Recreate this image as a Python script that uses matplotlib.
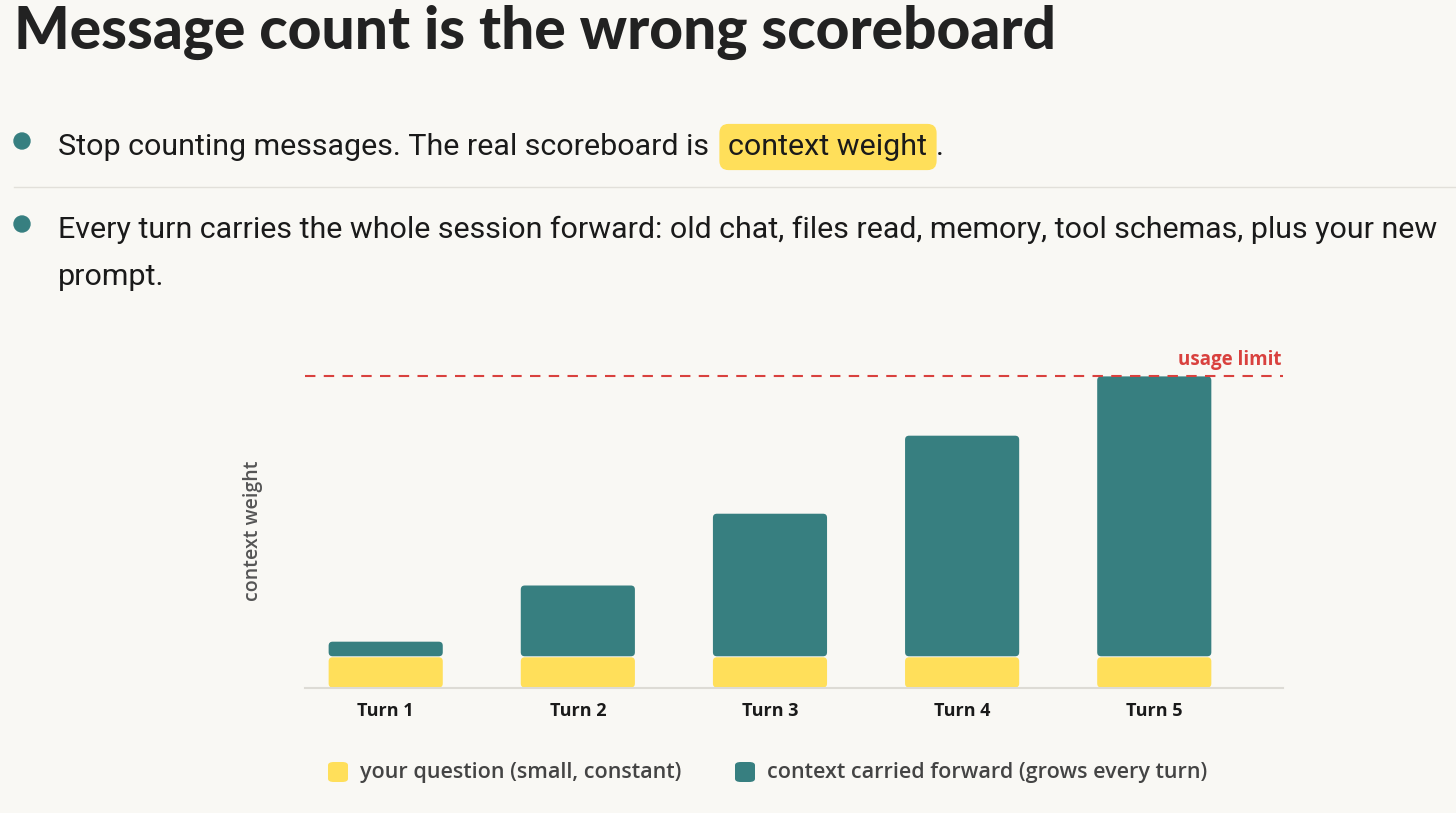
import matplotlib
matplotlib.use('Agg')
import matplotlib.pyplot as plt
from matplotlib.patches import FancyBboxPatch, Ellipse

# data
turns = ['Turn 1', 'Turn 2', 'Turn 3', 'Turn 4', 'Turn 5']
question = [10, 10, 10, 10, 10]
context = [5, 23, 46, 71, 90]
usage_limit = 100

BG = '#F9F8F4'
TEAL = '#377F80'
YELLOW = '#FFDF5A'
RED = '#D9413E'

W, H = 1456, 813
fig = plt.figure(figsize=(W / 100, H / 100), dpi=100, facecolor=BG)

def fx(x):
    return x / W

def fy(y):
    return 1 - y / H

# title
fig.text(fx(14), fy(32), 'Message count is the wrong scoreboard', fontsize=42.2,
         fontweight='black', family='Lato', color='#222222', va='center', ha='left')

# bullets
body = dict(fontsize=21.85, family='Roboto', color='#1a1a1a', va='baseline', ha='left')
for by in [141, 224]:
    fig.patches.append(Ellipse((fx(22), fy(by)), 16 / W, 16 / H,
                               transform=fig.transFigure, color=TEAL))

t1 = fig.text(fx(58), fy(155), 'Stop counting messages. The real scoreboard is ', **body)
fig.canvas.draw()
r = fig.canvas.get_renderer()
bb = t1.get_window_extent(r)
t2 = fig.text(bb.x1 / W + fx(12), fy(155), 'context weight', **body,
              bbox=dict(boxstyle='round,pad=0.3,rounding_size=0.3', fc=YELLOW, ec='none'))
bb2 = t2.get_window_extent(r)
fig.text(bb2.x1 / W + fx(8), fy(155), '.', **body)

fig.add_artist(plt.Line2D([fx(14), 1], [fy(187), fy(187)], color='#E2E0DA', lw=1))

fig.text(fx(58), fy(238), 'Every turn carries the whole session forward: old chat, files read, '
         'memory, tool schemas, plus your new', **body)
fig.text(fx(58), fy(285), 'prompt.', **body)

# chart
ax = fig.add_axes([fx(305), fy(688), fx(1283 - 305), (688 - 340) / H])
ax.set_facecolor(BG)
x = list(range(len(turns)))
bw = 0.594
b1 = ax.bar(x, question, width=bw, color=YELLOW)
b2 = ax.bar(x, context, width=bw, bottom=question, color=TEAL)
ax.set_xlim(-0.42, 4.67)
ax.set_ylim(0, 111.5)

# round the bar corners
px_x = 192.0
px_y = 3.12
for bars, col in [(b1, YELLOW), (b2, TEAL)]:
    for p in bars:
        gap = 0.5 / px_y
        fb = FancyBboxPatch((p.get_x(), p.get_y() + gap), p.get_width(), p.get_height() - 2 * gap,
                            boxstyle='round,pad=0,rounding_size=%f' % (4 / px_x),
                            mutation_aspect=px_x / px_y, fc=col, ec='none')
        p.remove()
        ax.add_patch(fb)

ax.axhline(usage_limit, color=RED, lw=1.5, ls=(0, (5, 4)))
ax.text(4.66, usage_limit + 2.0, 'usage limit', color=RED, fontsize=13.5,
        fontweight='bold', family='Open Sans', ha='right', va='bottom')

for s in ['top', 'right', 'left']:
    ax.spines[s].set_visible(False)
ax.spines['bottom'].set_color('#DDDBD5')
ax.spines['bottom'].set_linewidth(1.5)
ax.set_yticks([])
ax.set_xticks(x)
ax.set_xticklabels(turns, fontsize=13, fontweight='bold', family='Open Sans', color='#1a1a1a')
ax.tick_params(axis='x', length=0, pad=10)
ax.set_ylabel('context weight', fontsize=14, family='Open Sans', fontweight='semibold',
              color='#555555')
ax.yaxis.set_label_coords(-42 / 978, (688 - 531) / 348)

# legend
for lx, col, lab in [(328, YELLOW, 'your question (small, constant)'),
                     (735, TEAL, 'context carried forward (grows every turn)')]:
    fig.patches.append(FancyBboxPatch((fx(lx), fy(782)), fx(20), 20 / H,
                                      boxstyle='round,pad=0,rounding_size=0.004',
                                      transform=fig.transFigure, fc=col, ec='none'))
    fig.text(fx(lx + 32), fy(772), lab, fontsize=15.5, fontweight='semibold', family='Open Sans',
             color='#444444', va='center', ha='left')

fig.savefig('out.png', dpi=100, facecolor=BG)
